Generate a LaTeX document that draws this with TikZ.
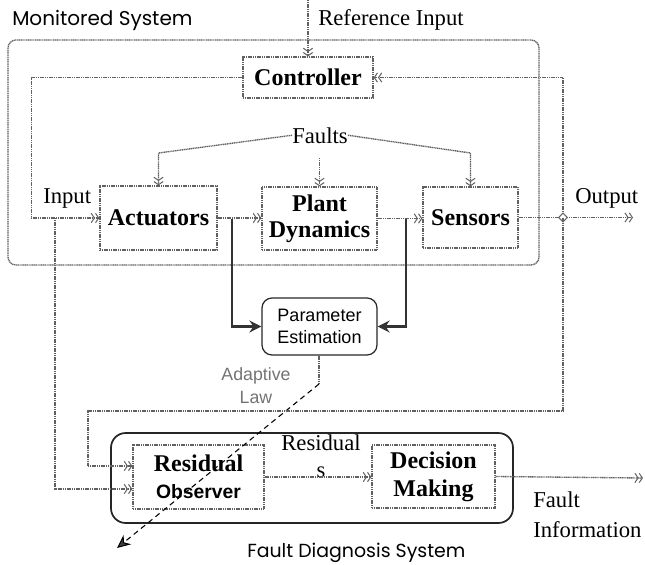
\documentclass[tikz,border=0pt]{standalone}
\usepackage{fontspec}
\setmainfont{Liberation Serif}
\setsansfont{Liberation Sans}
\newfontfamily\geofont{Poppins}
\usetikzlibrary{arrows.meta,shapes.geometric,calc}

\tikzset{
  dotline/.style={draw=black!62, line width=1pt, dash pattern=on 0.9pt off 0.45pt},
  flow/.style={dotline, -{Straight Barb[length=2.4pt,width=7pt,line width=0.75pt]Straight Barb[length=2.4pt,width=7pt,line width=0.75pt]}},
  block/.style={dotline, rectangle, inner sep=0pt, align=center,
    font=\fontsize{18}{21}\selectfont\bfseries},
  estbox/.style={draw=black!85, line width=0.9pt, rounded corners=7.5pt, inner sep=0pt,
    align=center, font=\sffamily\fontsize{13.5}{17}\selectfont},
  heavy/.style={draw=black!80, line width=2.2pt, -{Stealth[length=9pt,width=9pt,inset=3pt]}},
  law/.style={draw=black, line width=0.8pt, dash pattern=on 4pt off 3pt,
    -{Stealth[length=10pt,width=9pt,fill=black!75]}},
  lbl/.style={inner sep=0pt, font=\fontsize{17}{21}\selectfont},
  title/.style={inner sep=0pt, font=\geofont\fontsize{15}{18}\selectfont},
}

\begin{document}
\begin{tikzpicture}[x=0.75pt,y=-0.75pt]
\useasboundingbox (0,0) rectangle (645,564);

% frame of the monitored system
\draw[dotline, rounded corners=6pt] (8,40) rectangle (539,265);
\node[title, anchor=base west] (msys) at (12,25) {Monitored System};

% blocks
\node[block, minimum width=97.5pt, minimum height=30.75pt] (ctrl) at (308,77.5) {Controller};
\node[block, minimum width=87.75pt, minimum height=48pt] (act) at (158.5,218) {Actuators};
\node[block, minimum width=86.25pt, minimum height=47.25pt,
      font=\fontsize{18}{19.5}\selectfont\bfseries] (plant) at (319.5,218.5) {Plant\\Dynamics};
\node[block, minimum width=71.25pt, minimum height=45.75pt] (sens) at (470.5,217.5) {Sensors};
\node[estbox, minimum width=86.25pt, minimum height=42.75pt] (param) at (319.5,326.5) {Parameter\\Estimation};

% fault diagnosis system
\draw[draw=black!85, line width=1.3pt, rounded corners=11pt] (111,433) rectangle (513,523);
\node[block, minimum width=98.25pt, minimum height=48pt] (obs) at (198.5,477)
  {Residual\\[-1pt]{\sffamily\fontsize{14.5}{17}\selectfont\bfseries Observer}};
\node[block, minimum width=92.25pt, minimum height=47.25pt] (dec) at (433.5,476.5) {Decision\\Making};
\node[title, anchor=base west, font=\geofont\fontsize{14.2}{18}\selectfont] (fds) at (247,557) {Fault Diagnosis System};

% labels (multi-line nodes are placed by the baseline of their last line)
\node[lbl, anchor=base west] (refin) at (318,25) {Reference Input};
\node[lbl, anchor=base west] (inlbl) at (43,203) {Input};
\node[lbl, anchor=base west] (outlbl) at (575,203) {Output};
\node[lbl, anchor=base] (faults) at (320,143) {Faults};
\node[lbl, align=center, anchor=base, font=\fontsize{17}{20}\selectfont] (res) at (321,477) {Residual\\s};
\node[lbl, align=left, anchor=base west, font=\fontsize{17}{22}\selectfont] (finfo) at (533,537) {Fault\\Information};
\node[inner sep=0pt, align=center, anchor=base, text=black!55,
      font=\sffamily\fontsize{13.3}{17}\selectfont] (adlaw) at (256,403) {Adaptive\\Law};

% points of the wiring
\coordinate (refTop) at (308,0);
\coordinate (J) at (563,217.5);
\coordinate (outEnd) at (633,217.5);
\coordinate (inTap) at (55,218);
\coordinate (tapA) at (232,219);
\coordinate (tapB) at (406,219);
\coordinate (lawBend) at (319,384);
\coordinate (lawEnd) at (117,548);
\coordinate (finEnd) at (643,478);

% control loop
\draw[flow] (refTop) -- (ctrl.north);
\draw[flow] (ctrl.west) -- ++(-211,0) |- (act.west);
\draw[flow] (J) |- (ctrl.east);
\draw[flow] (act.east) -- (act.east -| plant.west);
\draw[flow] (plant.east) -- (plant.east -| sens.west);
\draw[flow] (sens.east) -- (outEnd);
\node[diamond, draw=black!60, fill=white, line width=0.8pt, inner sep=1.7pt] (jdot) at (J) {};

% faults
\draw[flow] (faults.west) -- (act.north |- 0,153) -- (act.north);
\draw[flow] (plant.north |- 0,158) -- (plant.north);
\draw[flow] (faults.east) -- (sens.north |- 0,153) -- (sens.north);

% parameter estimation
\draw[heavy] (tapA) |- (param.west);
\draw[heavy] (tapB) |- (param.east);
\draw[dotline] (param.south -| lawBend) -- (lawBend);
\draw[law] (lawBend) -- (lawEnd);

% inputs of the residual observer
\draw[flow] (inTap) |- ($(obs.west)+(0,12)$);
\draw[flow] (J) |- (88,411) |- ($(obs.west)+(0,-11)$);

% residuals and decision
\draw[flow] (obs.east) -- (obs.east -| dec.west);
\draw[flow] (dec.east) -- (finEnd);
\end{tikzpicture}
\end{document}
